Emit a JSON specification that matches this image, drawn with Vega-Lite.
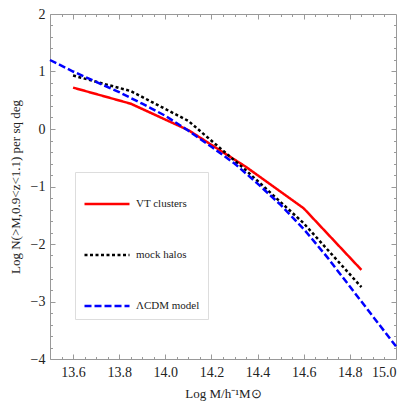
{
  "$schema": "https://vega.github.io/schema/vega-lite/v6.json",
  "width": 346,
  "height": 345,
  "autosize": {"type": "none"},
  "padding": {"left": 50, "top": 14, "right": 13, "bottom": 50},
  "config": {
    "font": "Liberation Serif, Times New Roman, serif",
    "view": {"stroke": null},
    "axis": {"grid": false, "domainColor": "#999", "tickColor": "#999", "labelColor": "#222", "titleColor": "#222", "labelFontSize": 14, "titleFontSize": 13, "titleFontWeight": "normal", "labelFont": "Liberation Serif, Times New Roman, serif", "titleFont": "Liberation Serif, Times New Roman, serif"},
    "legend": {"labelFont": "Liberation Serif, Times New Roman, serif"}
  },
  "data": {
    "values": [
      {"series": "VT clusters", "logM": 13.6, "logN": 0.72},
      {"series": "VT clusters", "logM": 13.85, "logN": 0.44},
      {"series": "VT clusters", "logM": 14.1, "logN": -0.02},
      {"series": "VT clusters", "logM": 14.35, "logN": -0.66},
      {"series": "VT clusters", "logM": 14.6, "logN": -1.38},
      {"series": "VT clusters", "logM": 14.85, "logN": -2.45},
      {"series": "mock halos", "logM": 13.6, "logN": 0.93},
      {"series": "mock halos", "logM": 13.85, "logN": 0.66},
      {"series": "mock halos", "logM": 14.1, "logN": 0.14},
      {"series": "mock halos", "logM": 14.35, "logN": -0.72},
      {"series": "mock halos", "logM": 14.6, "logN": -1.64},
      {"series": "mock halos", "logM": 14.85, "logN": -2.75},
      {"series": "ΛCDM model", "logM": 13.5, "logN": 1.2},
      {"series": "ΛCDM model", "logM": 13.6, "logN": 1.0},
      {"series": "ΛCDM model", "logM": 13.7, "logN": 0.82},
      {"series": "ΛCDM model", "logM": 13.8, "logN": 0.64},
      {"series": "ΛCDM model", "logM": 13.9, "logN": 0.44},
      {"series": "ΛCDM model", "logM": 14.0, "logN": 0.23},
      {"series": "ΛCDM model", "logM": 14.1, "logN": -0.03},
      {"series": "ΛCDM model", "logM": 14.2, "logN": -0.31},
      {"series": "ΛCDM model", "logM": 14.3, "logN": -0.6},
      {"series": "ΛCDM model", "logM": 14.4, "logN": -0.95},
      {"series": "ΛCDM model", "logM": 14.5, "logN": -1.32},
      {"series": "ΛCDM model", "logM": 14.6, "logN": -1.74},
      {"series": "ΛCDM model", "logM": 14.7, "logN": -2.22},
      {"series": "ΛCDM model", "logM": 14.8, "logN": -2.74},
      {"series": "ΛCDM model", "logM": 14.9, "logN": -3.26},
      {"series": "ΛCDM model", "logM": 15.0, "logN": -3.78}
    ]
  },
  "layer": [
    {
      "mark": {"type": "line", "strokeWidth": 2.5, "interpolate": "linear"},
      "encoding": {
        "x": {"field": "logM", "type": "quantitative", "scale": {"domain": [13.5, 15.0], "nice": false, "zero": false},
          "axis": {"orient": "bottom", "values": [13.6, 13.8, 14.0, 14.2, 14.4, 14.6, 14.8, 15.0], "format": ".1f", "tickSize": -5, "labelPadding": 11, "title": "Log M/h⁻¹M⊙", "titlePadding": 8}},
        "y": {"field": "logN", "type": "quantitative", "scale": {"domain": [-4, 2], "nice": false, "zero": false},
          "axis": {"orient": "left", "values": [-4, -3, -2, -1, 0, 1, 2], "tickSize": -5, "labelPadding": 10, "title": "Log N(>M,0.9<z<1.1) per sq deg", "titlePadding": 8}},
        "color": {"field": "series", "type": "nominal",
          "scale": {"domain": ["VT clusters", "mock halos", "ΛCDM model"], "range": ["#ff0000", "#000000", "#0000ff"]},
          "legend": {"orient": "none", "legendX": 25, "legendY": 158, "title": null, "symbolType": "stroke", "symbolSize": 2025, "symbolStrokeWidth": 2.5, "padding": 8, "rowPadding": 22, "labelFontSize": 11, "labelOffset": 5, "labelColor": "#222", "strokeColor": "#ddd", "fillColor": "#ffffff", "cornerRadius": 0}},
        "strokeDash": {"field": "series", "type": "nominal",
          "scale": {"domain": ["VT clusters", "mock halos", "ΛCDM model"], "range": [[1, 0], [3, 2.5], [7, 3]]},
          "legend": {"orient": "none", "legendX": 25, "legendY": 158, "title": null, "symbolType": "stroke", "symbolSize": 2025, "symbolStrokeWidth": 2.5, "padding": 8, "rowPadding": 22, "labelFontSize": 11, "labelOffset": 5, "labelColor": "#222", "strokeColor": "#ddd", "fillColor": "#ffffff", "cornerRadius": 0}}
      }
    },
    {
      "mark": {"type": "point", "opacity": 0},
      "encoding": {
        "x": {"field": "logM", "type": "quantitative", "scale": {"domain": [13.5, 15.0], "nice": false, "zero": false},
          "axis": {"orient": "bottom", "values": [13.55, 13.65, 13.7, 13.75, 13.85, 13.9, 13.95, 14.05, 14.1, 14.15, 14.25, 14.3, 14.35, 14.45, 14.5, 14.55, 14.65, 14.7, 14.75, 14.85, 14.9, 14.95], "labels": false, "domain": false, "tickSize": -2.5, "title": null}},
        "y": {"field": "logN", "type": "quantitative", "scale": {"domain": [-4, 2], "nice": false, "zero": false},
          "axis": {"orient": "left", "values": [-3.8, -3.6, -3.4, -3.2, -2.8, -2.6, -2.4, -2.2, -1.8, -1.6, -1.4, -1.2, -0.8, -0.6, -0.4, -0.2, 0.2, 0.4, 0.6, 0.8, 1.2, 1.4, 1.6, 1.8], "labels": false, "domain": false, "tickSize": -2.5, "title": null}}
      }
    },
    {
      "mark": {"type": "point", "opacity": 0},
      "encoding": {
        "x": {"field": "logM", "type": "quantitative", "scale": {"domain": [13.5, 15.0], "nice": false, "zero": false},
          "axis": {"orient": "top", "values": [13.6, 13.8, 14.0, 14.2, 14.4, 14.6, 14.8], "labels": false, "tickSize": -5, "title": null}},
        "y": {"field": "logN", "type": "quantitative", "scale": {"domain": [-4, 2], "nice": false, "zero": false},
          "axis": {"orient": "right", "values": [-3, -2, -1, 0, 1], "labels": false, "tickSize": -5, "title": null}}
      }
    },
    {
      "mark": {"type": "point", "opacity": 0},
      "encoding": {
        "x": {"field": "logM", "type": "quantitative", "scale": {"domain": [13.5, 15.0], "nice": false, "zero": false},
          "axis": {"orient": "top", "values": [13.55, 13.65, 13.7, 13.75, 13.85, 13.9, 13.95, 14.05, 14.1, 14.15, 14.25, 14.3, 14.35, 14.45, 14.5, 14.55, 14.65, 14.7, 14.75, 14.85, 14.9, 14.95], "labels": false, "domain": false, "tickSize": -2.5, "title": null}},
        "y": {"field": "logN", "type": "quantitative", "scale": {"domain": [-4, 2], "nice": false, "zero": false},
          "axis": {"orient": "right", "values": [-3.8, -3.6, -3.4, -3.2, -2.8, -2.6, -2.4, -2.2, -1.8, -1.6, -1.4, -1.2, -0.8, -0.6, -0.4, -0.2, 0.2, 0.4, 0.6, 0.8, 1.2, 1.4, 1.6, 1.8], "labels": false, "domain": false, "tickSize": -2.5, "title": null}}
      }
    }
  ],
  "resolve": {"axis": {"x": "independent", "y": "independent"}}
}
